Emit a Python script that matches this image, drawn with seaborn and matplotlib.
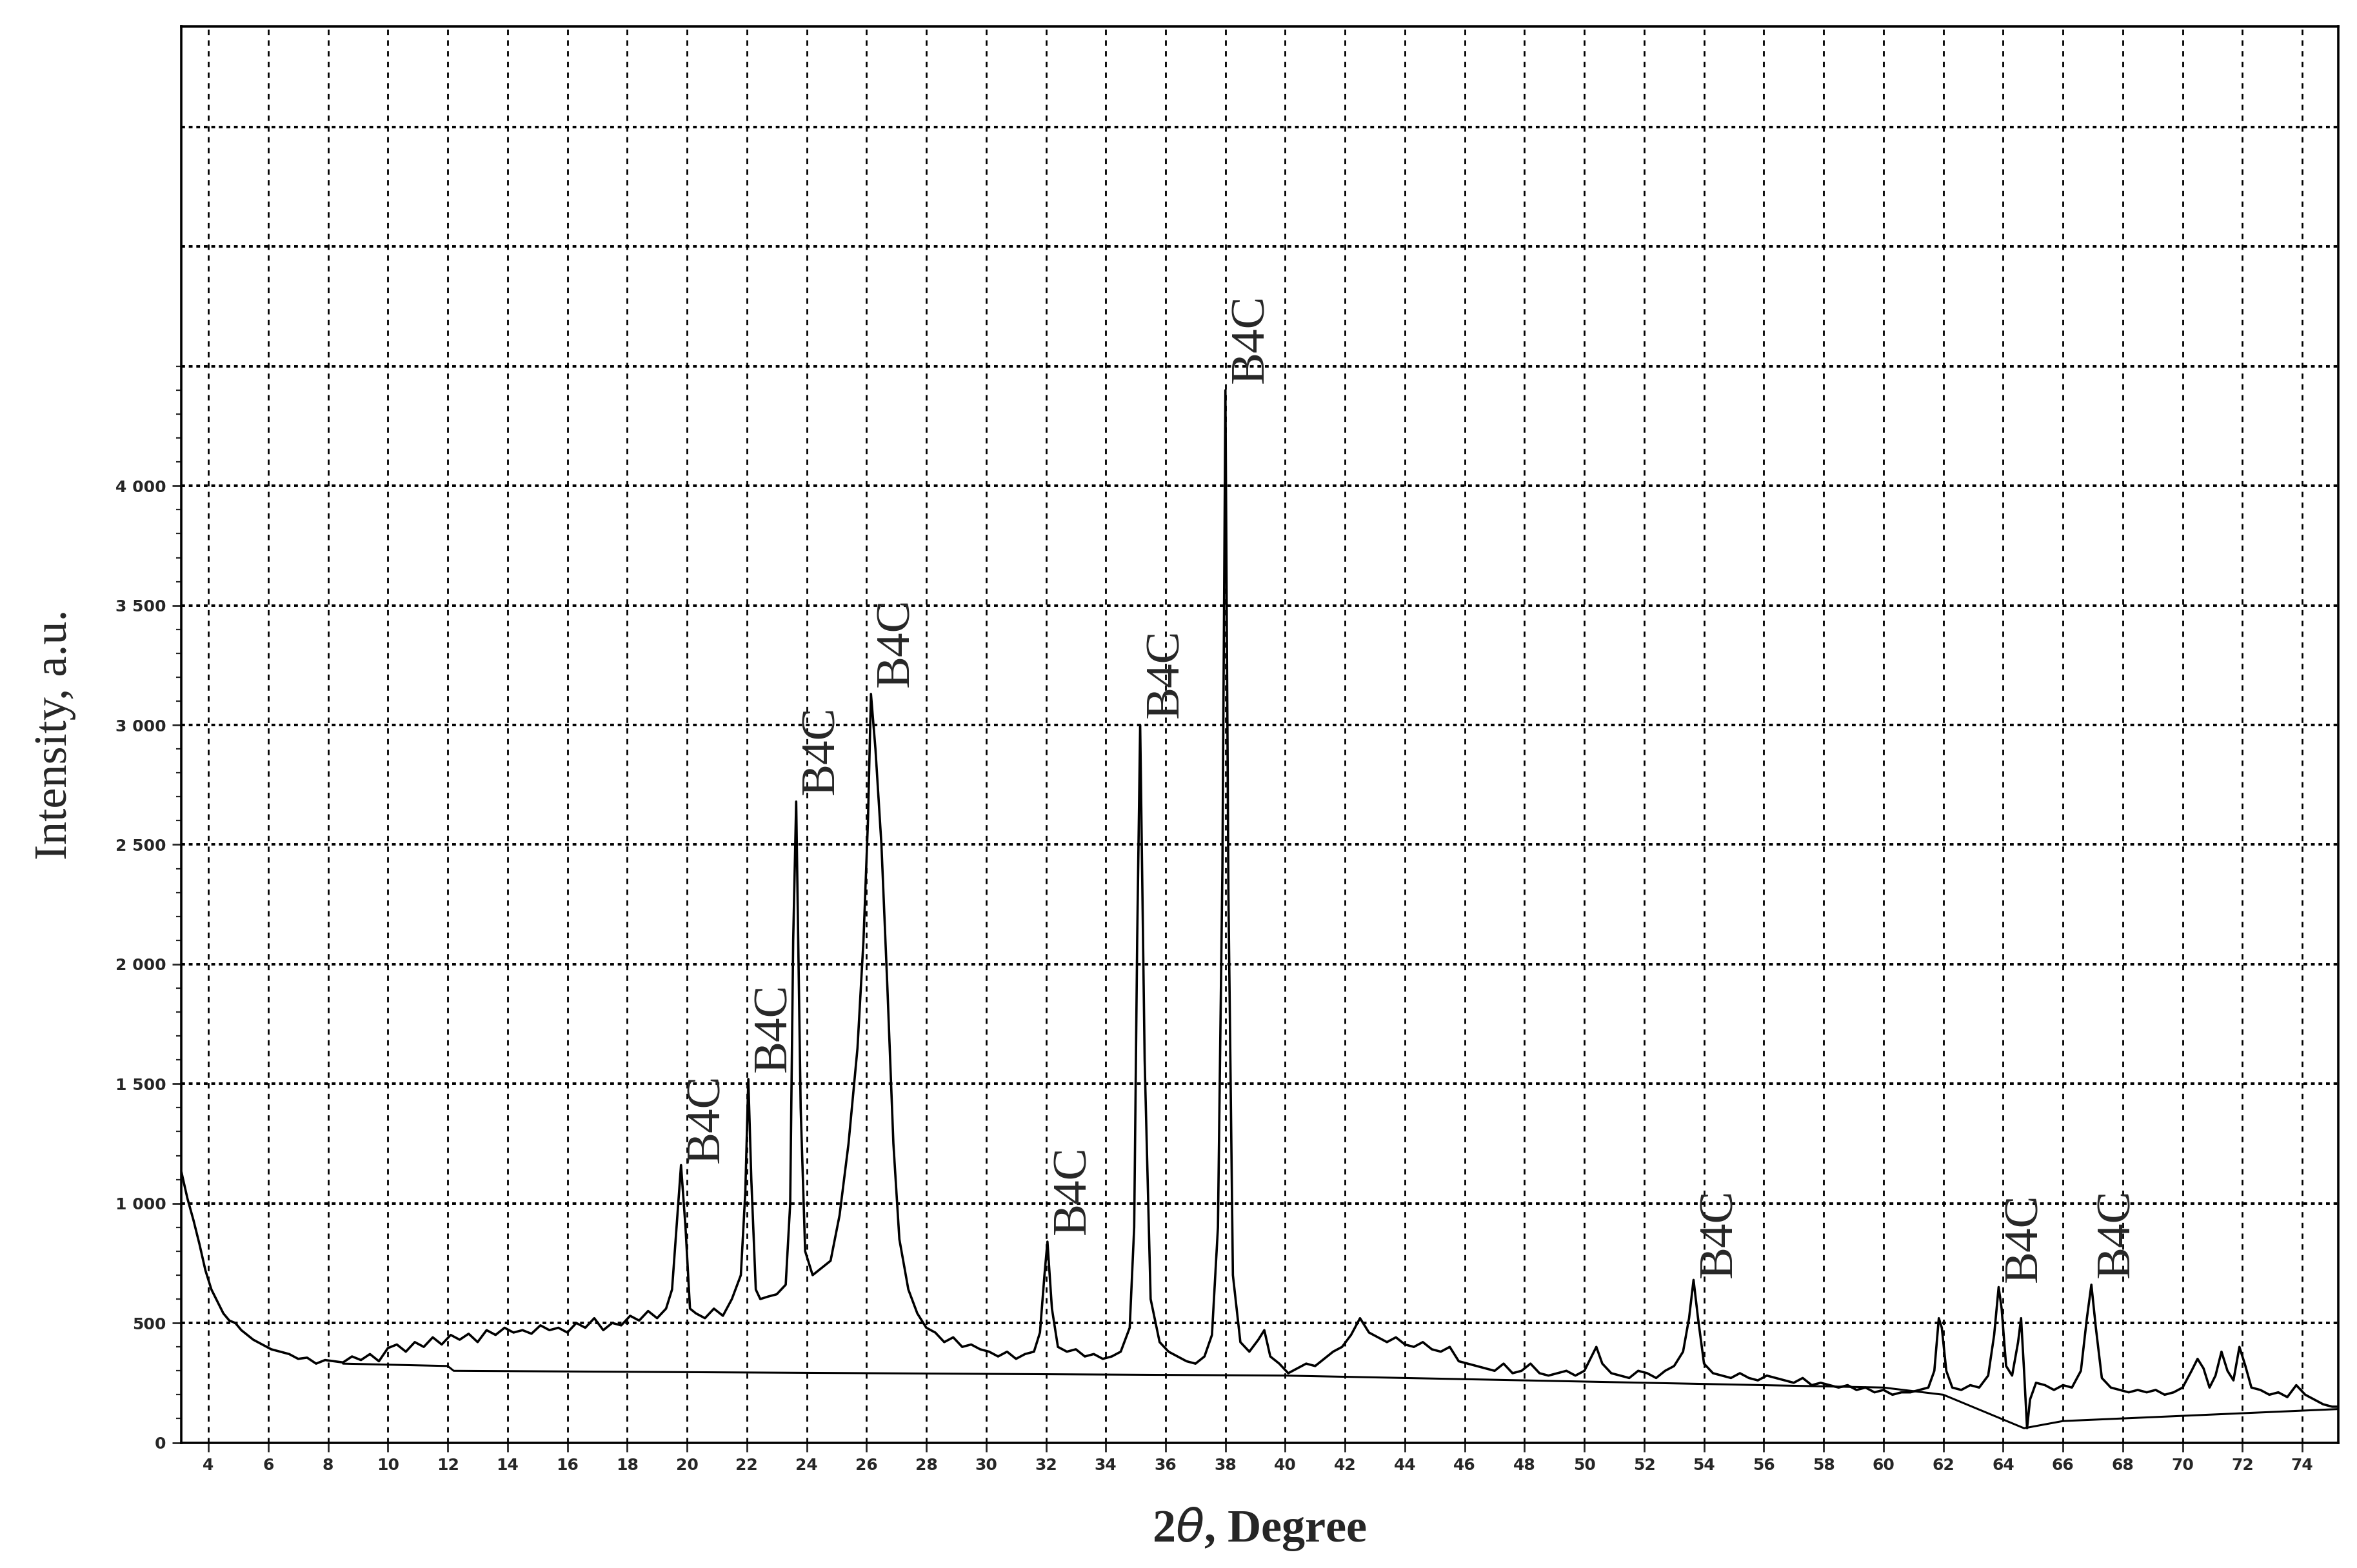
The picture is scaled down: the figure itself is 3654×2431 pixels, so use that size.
import matplotlib
matplotlib.use("Agg")
import matplotlib.pyplot as plt
import seaborn as sns
import pandas as pd
import numpy as np

# (2theta, intensity) pairs
pattern_points = [
 (3.1,1130),(3.3,1020),(3.5,930),(3.7,830),(3.9,720),(4.1,640),(4.3,590),(4.5,540),(4.7,510),(4.9,500),
 (5.1,470),(5.3,450),(5.5,430),(5.8,410),(6.1,390),(6.4,380),(6.7,370),(7.0,350),(7.3,355),(7.6,330),
 (7.9,345),(8.2,340),(8.5,335),(8.8,360),(9.1,345),(9.4,370),(9.7,340),(10.0,395),(10.3,410),(10.6,380),
 (10.9,420),(11.2,400),(11.5,440),(11.8,410),(12.1,450),(12.4,430),(12.7,455),(13.0,420),(13.3,470),(13.6,450),
 (13.9,480),(14.2,460),(14.5,470),(14.8,455),(15.1,490),(15.4,470),(15.7,480),(16.0,460),(16.3,500),(16.6,480),
 (16.9,520),(17.2,470),(17.5,500),(17.8,490),(18.1,530),(18.4,510),(18.7,550),(19.0,520),(19.3,560),(19.5,640),
 (19.65,900),(19.8,1160),(19.95,900),(20.1,560),(20.3,540),(20.6,520),(20.9,560),(21.2,530),(21.5,600),(21.8,700),
 (21.95,1050),(22.05,1520),(22.15,1100),(22.3,640),(22.45,600),(22.7,610),(23.0,620),(23.3,660),(23.45,1000),(23.55,2100),
 (23.65,2680),(23.8,1400),(23.95,800),(24.2,700),(24.5,730),(24.8,760),(25.1,950),(25.4,1250),(25.7,1650),(25.9,2100),
 (26.05,2600),(26.15,3130),(26.3,2900),(26.5,2500),(26.7,1900),(26.9,1250),(27.1,850),(27.4,640),(27.7,540),(28.0,480),
 (28.3,460),(28.6,420),(28.9,440),(29.2,400),(29.5,410),(29.8,390),(30.1,380),(30.4,360),(30.7,380),(31.0,350),
 (31.3,370),(31.6,380),(31.8,460),(31.95,700),(32.05,840),(32.2,560),(32.4,400),(32.7,380),(33.0,390),(33.3,360),
 (33.6,370),(33.9,350),(34.2,360),(34.5,380),(34.8,480),(34.95,900),(35.05,2100),(35.15,3000),(35.3,1600),(35.5,600),
 (35.8,420),(36.1,380),(36.4,360),(36.7,340),(37.0,330),(37.3,360),(37.55,450),(37.75,900),(37.9,2400),(38.0,4400),
 (38.1,2300),(38.25,700),(38.5,420),(38.8,380),(39.1,430),(39.3,470),(39.5,360),(39.8,330),(40.1,290),(40.4,310),
 (40.7,330),(41.0,320),(41.3,350),(41.6,380),(41.9,400),(42.2,450),(42.5,520),(42.8,460),(43.1,440),(43.4,420),
 (43.7,440),(44.0,410),(44.3,400),(44.6,420),(44.9,390),(45.2,380),(45.5,400),(45.8,340),(46.1,330),(46.4,320),
 (46.7,310),(47.0,300),(47.3,330),(47.6,290),(47.9,300),(48.2,330),(48.5,290),(48.8,280),(49.1,290),(49.4,300),
 (49.7,280),(50.0,300),(50.2,350),(50.4,400),(50.6,330),(50.9,290),(51.2,280),(51.5,270),(51.8,300),(52.1,290),
 (52.4,270),(52.7,300),(53.0,320),(53.3,380),(53.5,520),(53.65,680),(53.8,520),(54.0,330),(54.3,290),(54.6,280),
 (54.9,270),(55.2,290),(55.5,270),(55.8,260),(56.1,280),(56.4,270),(56.7,260),(57.0,250),(57.3,270),(57.6,240),
 (57.9,250),(58.2,240),(58.5,230),(58.8,240),(59.1,220),(59.4,230),(59.7,210),(60.0,220),(60.3,200),(60.6,210),
 (60.9,210),(61.2,220),(61.5,230),(61.7,300),(61.85,520),(61.95,480),(62.1,300),(62.3,230),(62.6,220),(62.9,240),
 (63.2,230),(63.5,280),(63.7,450),(63.85,650),(63.95,560),(64.1,320),(64.3,280),(64.5,420),(64.6,520),(64.7,300),
 (64.8,60),(64.9,180),(65.1,250),(65.4,240),(65.7,220),(66.0,240),(66.3,230),(66.6,300),(66.8,520),(66.95,660),
 (67.1,480),(67.3,270),(67.6,230),(67.9,220),(68.2,210),(68.5,220),(68.8,210),(69.1,220),(69.4,200),(69.7,210),
 (70.0,230),(70.3,300),(70.5,350),(70.7,310),(70.9,230),(71.1,280),(71.3,380),(71.5,300),(71.7,260),(71.9,400),
 (72.1,320),(72.3,230),(72.6,220),(72.9,200),(73.2,210),(73.5,190),(73.8,240),(74.1,200),(74.4,180),(74.7,160),
 (75.0,150),(75.2,150),
]
two_theta = [p[0] for p in pattern_points]
intensity = [p[1] for p in pattern_points]

bg_x = [8.5, 12.0, 12.2, 40.0, 60.0, 62.0, 64.7, 66.0, 75.2]
bg_y = [330, 320, 300, 280, 230, 200, 60, 90, 140]

label_x = [19.8, 22.05, 23.65, 26.15, 32.05, 35.15, 38.0, 53.65, 63.85, 66.95]
label_y = [1160, 1540, 2700, 3150, 860, 3020, 4420, 680, 660, 680]

sns.set_theme(style="white")
plt.rcParams['font.family'] = ['DejaVu Sans']

fig = plt.figure(figsize=(18.27, 12.155), dpi=200)
ax = fig.add_axes([0.077, 0.08, 0.915, 0.903])

df = pd.DataFrame({"x": two_theta, "y": intensity})
bg = pd.DataFrame({"x": bg_x, "y": bg_y})
sns.lineplot(data=df, x="x", y="y", ax=ax, color="black", linewidth=1.3, estimator=None, sort=False)
sns.lineplot(data=bg, x="x", y="y", ax=ax, color="black", linewidth=1.1, estimator=None, sort=False)

ax.set_xlim(3.1, 75.2)
ax.set_ylim(0, 5920)
ax.set_xticks(np.arange(4, 75, 2))
ax.set_xticklabels([str(v) for v in range(4, 75, 2)], fontsize=9, fontweight='bold')
ax.set_yticks(np.arange(0, 4001, 500))
ax.set_yticklabels(["0", "500", "1 000", "1 500", "2 000", "2 500", "3 000", "3 500", "4 000"], fontsize=9, fontweight='bold')
ax.set_yticks(np.arange(0, 4501, 100), minor=True)
ax.tick_params(axis='both', which='major', length=5, direction='out', left=True, bottom=True, width=1)
ax.tick_params(axis='y', which='minor', length=3, left=True, width=0.8)

for v in np.arange(4, 75, 2):
    ax.axvline(v, color='black', linestyle=(0, (3, 3)), linewidth=1.0, zorder=0)
for v in np.arange(500, 5920, 500):
    ax.axhline(v, color='black', linestyle=(0, (1.5, 1.5)), linewidth=1.4, zorder=0)

for s in ax.spines.values():
    s.set_color('black')
    s.set_linewidth(1.3)

for lx, ly in zip(label_x, label_y):
    ax.text(lx + 0.15, ly + 10, "B4C", rotation=90, ha='left', va='bottom',
            fontsize=27, family='Liberation Serif')

ax.set_xlabel(r"2$\theta$, Degree", fontsize=26, family='Liberation Serif', fontweight='bold', labelpad=18)
ax.set_ylabel("Intensity, a.u.", fontsize=26, family='Liberation Serif', labelpad=22)

fig.savefig("out.png", dpi=200, facecolor='white')
